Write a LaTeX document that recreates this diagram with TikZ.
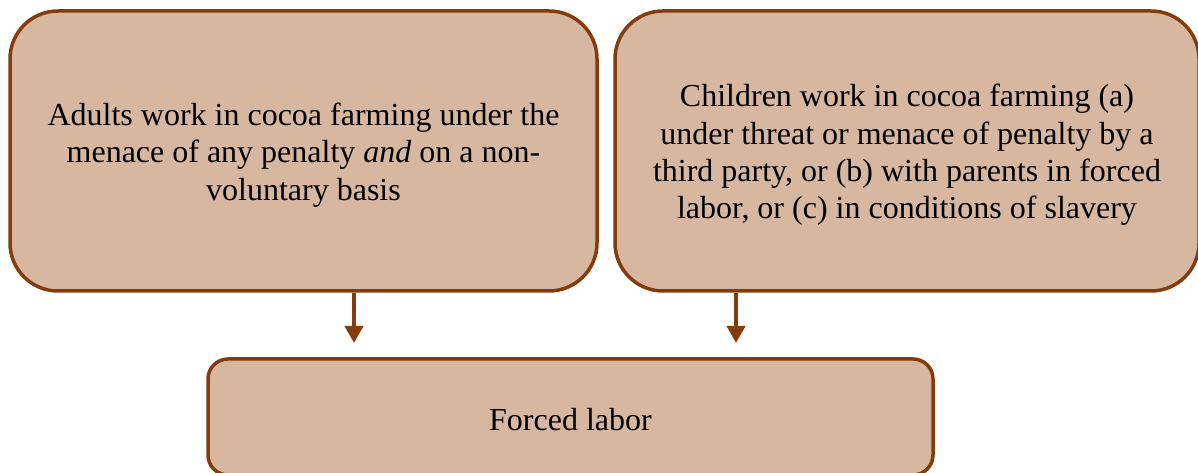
\documentclass[tikz,border=0pt]{standalone}
\usepackage{fontspec}
\setmainfont{LiberationSerif}[Extension=.ttf, UprightFont=*-Regular, ItalicFont=*-Italic, BoldFont=*-Bold]
\usetikzlibrary{arrows.meta}
\definecolor{boxfill}{HTML}{D8B7A0}
\definecolor{boxline}{HTML}{843C0C}
\tikzset{
  bigbox/.style={draw=boxline, fill=boxfill, line width=3.5pt, rounded corners=48pt,
    minimum width=587pt, minimum height=280pt, inner sep=0pt},
  smallbox/.style={draw=boxline, fill=boxfill, line width=3.5pt, rounded corners=20pt,
    minimum width=725pt, minimum height=116pt, inner sep=0pt},
  lab/.style={align=center, inner sep=0pt, yshift=-4pt,
    font=\fontsize{32pt}{37.3pt}\selectfont},
  arr/.style={draw=boxline, line width=4pt, -{Triangle[width=18pt,length=17pt]}}
}
\begin{document}
\begin{tikzpicture}[x=1pt,y=1pt]
\useasboundingbox (0,0) rectangle (1198,473);
\begin{scope}
\clip (0,0) rectangle (1198,473);
\node[bigbox] (L) at (303.5,322) {};
\node[lab] (Lt) at (L.center) {Adults work in cocoa farming under the\\menace of any penalty \textit{and} on a non-\\voluntary basis};
\node[bigbox, minimum width=584pt] (R) at (907,322) {};
\node[lab] (Rt) at (R.center) {Children work in cocoa farming (a)\\under threat or menace of penalty by a\\third party, or (b) with parents in forced\\labor, or (c) in conditions of slavery};
\node[smallbox] (B) at (570.5,56) {};
\node[lab, yshift=1pt] (Bt) at (B.center) {Forced labor};
\coordinate (a1) at (354,130);
\coordinate (a2) at (736,130);
\draw[arr] (L.south -| a1) -- (a1);
\draw[arr] (R.south -| a2) -- (a2);
\end{scope}
\end{tikzpicture}
\end{document}
